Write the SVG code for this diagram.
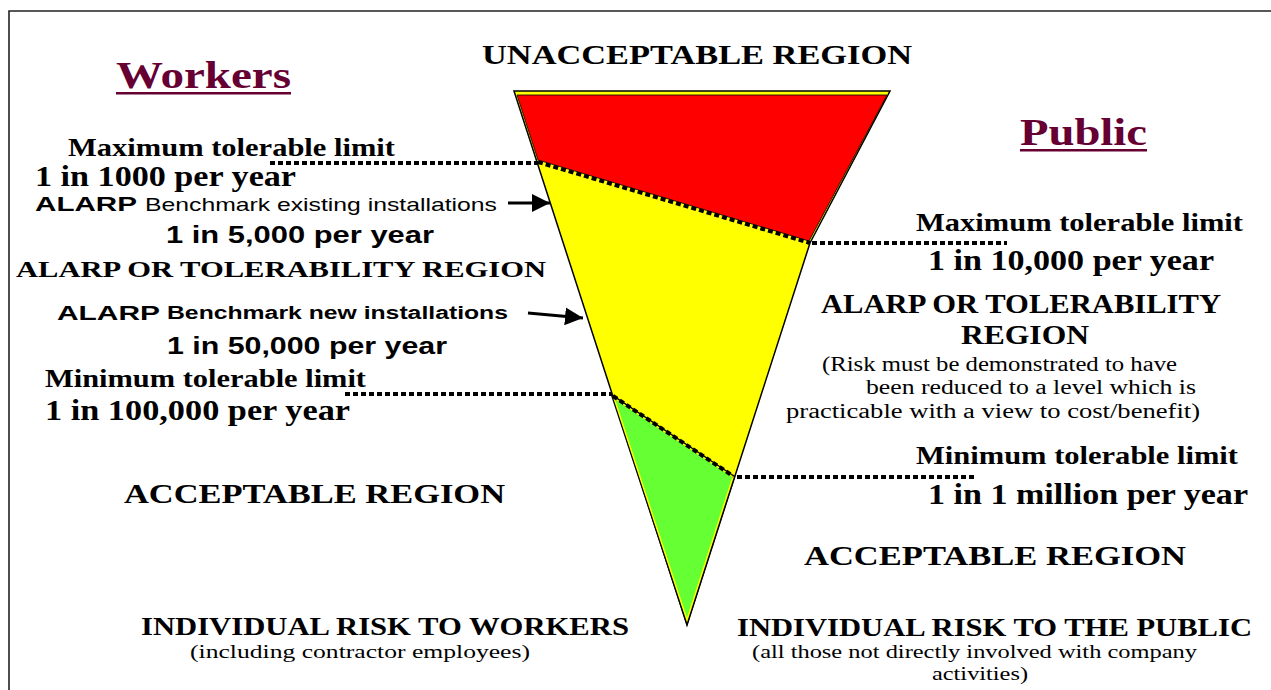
<svg xmlns="http://www.w3.org/2000/svg" width="1271" height="690" viewBox="0 0 1271 690">
<style>
.sb{font-family:"Liberation Serif","Times New Roman",serif;font-weight:bold;fill:#000}
.sr{font-family:"Liberation Serif","Times New Roman",serif;fill:#000}
.ab{font-family:"Liberation Sans",Arial,sans-serif;font-weight:bold;fill:#000}
.ar{font-family:"Liberation Sans",Arial,sans-serif;fill:#000}
.title{font-family:"Liberation Serif","Times New Roman",serif;font-weight:bold;fill:#660033}
.dot{stroke:#000;stroke-width:4;stroke-dasharray:5 3;fill:none}
.arr{stroke:#000;stroke-width:3;fill:none}
</style>
<defs>
<marker id="ah" viewBox="0 0 10 10" refX="10" refY="5" markerWidth="6" markerHeight="6" markerUnits="strokeWidth" orient="auto">
<path d="M0,0 L10,5 L0,10 z" fill="#000"/>
</marker>
</defs>
<rect width="1271" height="690" fill="#fff"/>
<g id="frame"><path d="M9,690 V11 H1271" fill="none" stroke="#222" stroke-width="1.6"/></g>

<g id="triangle">
<polygon points="514,91 890,91 810,243 687,625" fill="#ffff00" stroke="#000" stroke-width="1.5"/>
<polygon points="517,95 887,95 809,241 538,160" fill="#ff0000" stroke="#000" stroke-width="0.8"/>
<polygon points="614,398 733,477 687,620" fill="#66ff33" stroke="#000" stroke-width="4"/>
<polygon points="614,398 733,477 687,620" fill="#66ff33" stroke="#ffff00" stroke-width="1.5"/>
</g>

<g id="connectors">
<line class="dot" x1="538" y1="162" x2="810" y2="243"/>
<line class="dot" x1="613" y1="396" x2="733" y2="476"/>
<line class="dot" x1="270" y1="163" x2="538" y2="163"/>
<line class="dot" x1="812" y1="243" x2="1007" y2="243"/>
<line class="dot" x1="345" y1="394" x2="612" y2="394"/>
<line class="dot" x1="737" y1="477" x2="977" y2="477"/>
<line class="arr" x1="508" y1="203" x2="550" y2="203" marker-end="url(#ah)"/>
<line class="arr" x1="528" y1="313" x2="583" y2="318" marker-end="url(#ah)"/>
</g>

<g id="workers-title">
<text class="title" x="116" y="88" font-size="38" textLength="175" lengthAdjust="spacingAndGlyphs">Workers</text>
<rect x="116" y="92" width="175" height="2.5" fill="#660033"/>
</g>
<g id="public-title">
<text class="title" x="1020" y="145" font-size="38" textLength="127" lengthAdjust="spacingAndGlyphs">Public</text>
<rect x="1020" y="149" width="127" height="2.5" fill="#660033"/>
</g>
<g id="unacceptable">
<text class="sb" x="482" y="64" font-size="28" textLength="430" lengthAdjust="spacingAndGlyphs">UNACCEPTABLE REGION</text>
</g>

<g id="workers-max">
<text class="sb" x="68" y="156" font-size="25" textLength="327" lengthAdjust="spacingAndGlyphs">Maximum tolerable limit</text>
<text class="sb" x="35" y="186" font-size="30" textLength="261" lengthAdjust="spacingAndGlyphs">1 in 1000 per year</text>
</g>
<g id="workers-alarp-existing">
<text class="ab" x="35" y="211" font-size="21" textLength="102" lengthAdjust="spacingAndGlyphs">ALARP</text>
<text class="ar" x="145" y="211" font-size="19" textLength="352" lengthAdjust="spacingAndGlyphs">Benchmark existing installations</text>
<text class="ab" x="166" y="243" font-size="24" textLength="268" lengthAdjust="spacingAndGlyphs">1 in 5,000 per year</text>
</g>
<g id="workers-alarp-region">
<text class="sb" x="16" y="277" font-size="24" textLength="530" lengthAdjust="spacingAndGlyphs">ALARP OR TOLERABILITY REGION</text>
</g>
<g id="workers-alarp-new">
<text class="ab" x="57" y="320" font-size="21" textLength="103" lengthAdjust="spacingAndGlyphs">ALARP</text>
<text class="ab" x="167" y="319" font-size="18" textLength="341" lengthAdjust="spacingAndGlyphs">Benchmark new installations</text>
<text class="ab" x="167" y="354" font-size="24" textLength="280" lengthAdjust="spacingAndGlyphs">1 in 50,000 per year</text>
</g>
<g id="workers-min">
<text class="sb" x="45" y="387" font-size="25" textLength="321" lengthAdjust="spacingAndGlyphs">Minimum tolerable limit</text>
<text class="sb" x="45" y="420" font-size="29" textLength="305" lengthAdjust="spacingAndGlyphs">1 in 100,000 per year</text>
</g>
<g id="workers-acceptable">
<text class="sb" x="124" y="503" font-size="27" textLength="381" lengthAdjust="spacingAndGlyphs">ACCEPTABLE REGION</text>
</g>
<g id="workers-footer">
<text class="sb" x="141" y="635" font-size="25" textLength="488" lengthAdjust="spacingAndGlyphs">INDIVIDUAL RISK TO WORKERS</text>
<text class="sr" x="190" y="658" font-size="18" textLength="340" lengthAdjust="spacingAndGlyphs">(including contractor employees)</text>
</g>

<g id="public-max">
<text class="sb" x="916" y="231" font-size="25" textLength="327" lengthAdjust="spacingAndGlyphs">Maximum tolerable limit</text>
<text class="sb" x="928" y="270" font-size="29" textLength="286" lengthAdjust="spacingAndGlyphs">1 in 10,000 per year</text>
</g>
<g id="public-alarp-region">
<text class="sb" x="821" y="313" font-size="27" textLength="400" lengthAdjust="spacingAndGlyphs">ALARP OR TOLERABILITY</text>
<text class="sb" x="961" y="344" font-size="27" textLength="128" lengthAdjust="spacingAndGlyphs">REGION</text>
<text class="sr" x="822" y="371" font-size="20" textLength="355" lengthAdjust="spacingAndGlyphs">(Risk must be demonstrated to have</text>
<text class="sr" x="866" y="394" font-size="20" textLength="330" lengthAdjust="spacingAndGlyphs">been reduced to a level which is</text>
<text class="sr" x="786" y="418" font-size="20" textLength="414" lengthAdjust="spacingAndGlyphs">practicable with a view to cost/benefit)</text>
</g>
<g id="public-min">
<text class="sb" x="916" y="464" font-size="25" textLength="322" lengthAdjust="spacingAndGlyphs">Minimum tolerable limit</text>
<text class="sb" x="928" y="504" font-size="29" textLength="320" lengthAdjust="spacingAndGlyphs">1 in 1 million per year</text>
</g>
<g id="public-acceptable">
<text class="sb" x="804" y="565" font-size="27" textLength="382" lengthAdjust="spacingAndGlyphs">ACCEPTABLE REGION</text>
</g>
<g id="public-footer">
<text class="sb" x="737" y="636" font-size="25" textLength="515" lengthAdjust="spacingAndGlyphs">INDIVIDUAL RISK TO THE PUBLIC</text>
<text class="sr" x="752" y="658" font-size="18" textLength="445" lengthAdjust="spacingAndGlyphs">(all those not directly involved with company</text>
<text class="sr" x="932" y="680" font-size="18" textLength="96" lengthAdjust="spacingAndGlyphs">activities)</text>
</g>
</svg>
